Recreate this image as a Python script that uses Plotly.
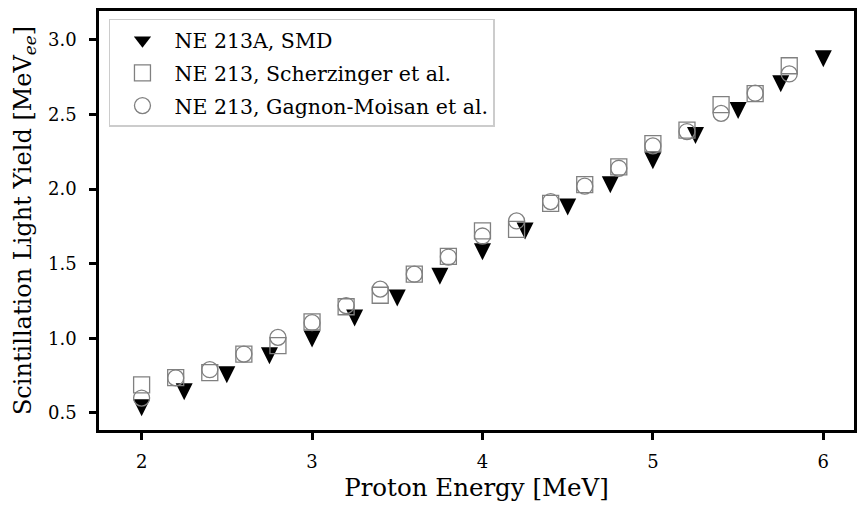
import plotly.graph_objects as go

# SMD (NE 213A)
smd_energy = [2.0, 2.25, 2.5, 2.75, 3.0, 3.25, 3.5, 3.75, 4.0, 4.25, 4.5, 4.75, 5.0, 5.25, 5.5, 5.75, 6.0]
smd_yield = [0.535, 0.643, 0.757, 0.884, 0.996, 1.137, 1.27, 1.417, 1.58, 1.72, 1.88, 2.03, 2.19, 2.36, 2.528, 2.707, 2.874]

# Scherzinger et al. (NE 213)
sch_energy = [2.0, 2.2, 2.4, 2.6, 2.8, 3.0, 3.2, 3.4, 3.6, 3.8, 4.0, 4.2, 4.4, 4.6, 4.8, 5.0, 5.2, 5.4, 5.6, 5.8]
sch_yield = [0.688, 0.737, 0.77, 0.895, 0.951, 1.11, 1.212, 1.289, 1.43, 1.55, 1.72, 1.731, 1.905, 2.03, 2.149, 2.305, 2.395, 2.566, 2.64, 2.827]

# Gagnon-Moisan et al. (NE 213)
gm_energy = [2.0, 2.2, 2.4, 2.6, 2.8, 3.0, 3.2, 3.4, 3.6, 3.8, 4.0, 4.2, 4.4, 4.6, 4.8, 5.0, 5.2, 5.4, 5.6, 5.8]
gm_yield = [0.6, 0.735, 0.79, 0.895, 1.007, 1.105, 1.22, 1.33, 1.43, 1.545, 1.686, 1.787, 1.917, 2.02, 2.14, 2.29, 2.386, 2.508, 2.643, 2.772]

x_ticks = [2, 3, 4, 5, 6]
y_ticks = [0.5, 1.0, 1.5, 2.0, 2.5, 3.0]
y_tick_labels = ["0.5", "1.0", "1.5", "2.0", "2.5", "3.0"]

FONT = "DejaVu Serif"
GRAY = "#808080"

fig = go.Figure()
fig.add_trace(go.Scatter(
    x=smd_energy, y=smd_yield, mode="markers", name="NE 213A, SMD",
    legendgroup="a", showlegend=False,
    marker=dict(symbol="arrow-down", size=17, standoff=8.5, color="black",
                line=dict(width=0)),
))
# legend entry for the SMD series
fig.add_trace(go.Scatter(
    x=[None], y=[None], mode="markers", name="NE 213A, SMD",
    legendgroup="a",
    marker=dict(symbol="triangle-down", size=15, color="black", line=dict(width=0)),
))
fig.add_trace(go.Scatter(
    x=sch_energy, y=sch_yield, mode="markers", name="NE 213, Scherzinger et al.",
    legendgroup="b",
    marker=dict(symbol="square-open", size=16, color=GRAY, line=dict(width=1.3, color=GRAY)),
))
fig.add_trace(go.Scatter(
    x=gm_energy, y=gm_yield, mode="markers", name="NE 213, Gagnon-Moisan et al.",
    legendgroup="c",
    marker=dict(symbol="circle-open", size=16, color=GRAY, line=dict(width=1.3, color=GRAY)),
))

axis_common = dict(
    showgrid=False, zeroline=False, showline=True, linecolor="black", linewidth=2.5,
    mirror=True, ticks="outside", ticklen=7, tickwidth=2.5, tickcolor="black",
    tickfont=dict(family=FONT, size=18, color="black"),
)

fig.update_layout(
    width=858, height=508,
    margin=dict(l=99, r=1, t=11, b=78),
    paper_bgcolor="white", plot_bgcolor="white",
    font=dict(family=FONT, color="black"),
    xaxis=dict(range=[1.75, 6.18], tickvals=x_ticks, ticktext=[str(v) for v in x_ticks],
               ticklabelstandoff=7,
               title=dict(text="Proton Energy [MeV]", font=dict(family=FONT, size=24.5), standoff=8),
               **axis_common),
    yaxis=dict(range=[0.386, 3.194], tickvals=y_ticks, ticktext=y_tick_labels,
               ticklabelstandoff=9,
               title=dict(text="Scintillation Light Yield [MeV<sub><i>ee</i></sub>]",
                          font=dict(family=FONT, size=24), standoff=10),
               **axis_common),
    legend=dict(
        x=0.0132, y=0.981, xanchor="left", yanchor="top",
        bgcolor="rgba(255,255,255,0.8)", bordercolor="#cccccc", borderwidth=1.5,
        font=dict(family=FONT, size=20.5, color="black"),
        traceorder="grouped", tracegroupgap=3, itemwidth=54,
    ),
    showlegend=True,
)

fig.write_html("out.html", config={"displayModeBar": False},
               post_script="document.body.style.margin='0';")
